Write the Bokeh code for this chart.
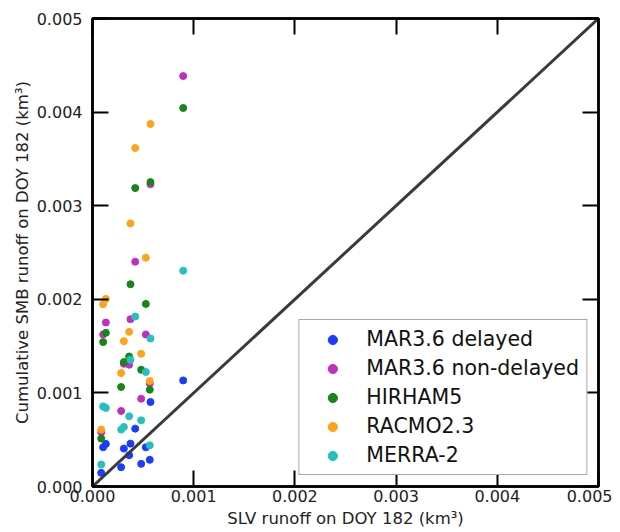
import numpy as np
from bokeh.plotting import figure
from bokeh.models import (Range1d, LinearAxis, FixedTicker, PrintfTickFormatter,
                          Legend, LegendItem, CustomLabelingPolicy)
from bokeh.embed import file_html
from bokeh.resources import INLINE

# SLV runoff on DOY 182 (km^3), shared x values
slv = [0.000086, 0.000105, 0.000132, 0.000283, 0.000310, 0.000362, 0.000375,
       0.000422, 0.000481, 0.000527, 0.000566, 0.000573, 0.000896]

# Cumulative SMB runoff on DOY 182 (km^3) per model
mar_delayed = [0.000146, 0.000419, 0.000455, 0.000206, 0.000405, 0.000334, 0.000458,
               0.000618, 0.000242, 0.000419, 0.000285, 0.000903, 0.001133]
mar_nondelayed = [0.000579, 0.001624, 0.001752, 0.000807, 0.001311, 0.001301, 0.001788,
                  0.002402, 0.000938, 0.001624, 0.001101, 0.003230, 0.004385]
hirham = [0.000512, 0.001543, 0.001642, 0.001063, 0.001329, 0.001389, 0.002161,
          0.003188, 0.001247, 0.001951, 0.001034, 0.003252, 0.004044]
racmo = [0.000608, 0.001948, 0.002004, 0.001212, 0.001553, 0.001652, 0.002811,
         0.003617, 0.001418, 0.002445, 0.001127, 0.003873, float("nan")]
merra = [0.000235, 0.000856, 0.000839, 0.000608, 0.000636, 0.000750, 0.001354,
         0.001816, 0.000707, 0.001223, 0.000440, 0.001581, 0.002306]

series_names = ["MAR3.6 delayed", "MAR3.6 non-delayed", "HIRHAM5", "RACMO2.3", "MERRA-2"]
series_values = [mar_delayed, mar_nondelayed, hirham, racmo, merra]
series_colors = ["#1a3cff", "#c030c0", "#178517", "#ffa31a", "#26c0c0"]

one_to_one = [0.0, 0.005]
tick_values = [0.0, 0.001, 0.002, 0.003, 0.004, 0.005]

FONT = "DejaVu Sans"

p = figure(width=612, height=530, output_backend="svg", toolbar_location=None,
           x_range=Range1d(0, 0.005), y_range=Range1d(0, 0.005),
           min_border_left=92, min_border_right=14, min_border_top=18,
           min_border_bottom=43, x_axis_location=None, y_axis_location=None)
p.xgrid.visible = False
p.ygrid.visible = False
p.background_fill_color = "white"
p.border_fill_color = "white"
p.outline_line_color = "black"
p.outline_line_width = 2.5

def style_axis(ax, show_labels):
    ax.ticker = FixedTicker(ticks=tick_values)
    ax.formatter = PrintfTickFormatter(format="%.3f")
    ax.major_tick_in = 16
    ax.major_tick_out = 0
    ax.minor_tick_line_color = None
    ax.major_tick_line_width = 2
    ax.major_tick_line_color = "black"
    ax.axis_line_color = "black"
    ax.axis_line_width = 2.5
    ax.major_label_text_font = FONT
    ax.axis_label_text_font = FONT
    ax.axis_label_text_font_style = "normal"
    ax.axis_label_text_color = "#222222"
    ax.major_label_text_color = "#222222"
    if show_labels:
        ax.major_label_text_font_size = "16px"
        ax.axis_label_text_font_size = "16.5px"
    else:
        ax.major_label_policy = CustomLabelingPolicy(code="return new Set()")
        ax.major_label_text_font_size = "1px"
        ax.major_label_standoff = 0

xb = LinearAxis(axis_label="SLV runoff on DOY 182 (km³)")
style_axis(xb, True)
xb.major_label_standoff = 3
xb.axis_label_standoff = 4
p.add_layout(xb, "below")

yl = LinearAxis(axis_label="Cumulative SMB runoff on DOY 182 (km³)")
style_axis(yl, True)
yl.major_label_standoff = 10
yl.axis_label_standoff = 2
p.add_layout(yl, "left")

xt = LinearAxis()
style_axis(xt, False)
p.add_layout(xt, "above")
yr = LinearAxis()
style_axis(yr, False)
p.add_layout(yr, "right")

items = []
for name, vals, col in zip(series_names, series_values, series_colors):
    r = p.scatter(slv, vals, size=7, color=col, line_color=col)
    items.append(LegendItem(label=name, renderers=[r]))

p.line(one_to_one, one_to_one, line_color="#3a3a3a", line_width=3)

legend = Legend(items=items, location="bottom_right")
legend.label_text_font = FONT
legend.label_text_font_size = "20.5px"
legend.label_text_color = "#111111"
legend.glyph_width = 52
legend.glyph_height = 23
legend.label_height = 23
legend.spacing = 5
legend.padding = 7
legend.label_standoff = 8
legend.margin = 11
legend.border_line_color = "#555555"
legend.border_line_width = 1
legend.background_fill_color = "white"
legend.background_fill_alpha = 1.0
p.add_layout(legend, "center")

open("out.html", "w").write(file_html(p, INLINE))
